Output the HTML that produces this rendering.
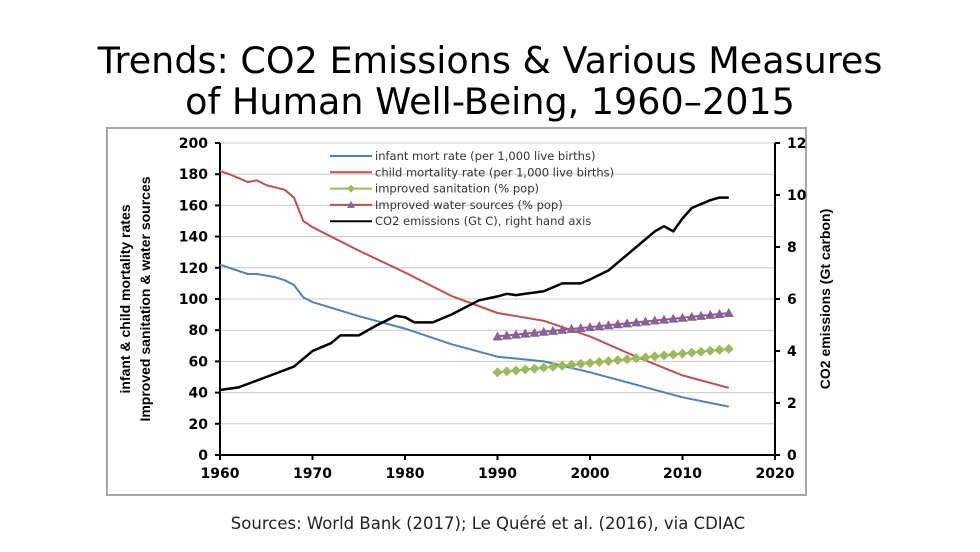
<!DOCTYPE html>
<html><head><meta charset="utf-8"><style>
body{margin:0;background:#fff;width:980px;height:547px;overflow:hidden;font-family:"Liberation Sans","DejaVu Sans",sans-serif}
</style></head><body>
<svg width="980" height="547" xmlns="http://www.w3.org/2000/svg">
<text x="490" y="73" text-anchor="middle" font-family="DejaVu Sans, sans-serif" font-size="36.5" fill="#000">Trends: CO2 Emissions &amp; Various Measures</text>
<text x="490" y="114" text-anchor="middle" font-family="DejaVu Sans, sans-serif" font-size="36.5" fill="#000">of Human Well-Being, 1960–2015</text>
<rect x="107" y="128" width="699" height="367" fill="#fff" stroke="#a6a6a6" stroke-width="2"/>
<g id="chart"></g>
<text x="488" y="529" text-anchor="middle" font-family="DejaVu Sans, sans-serif" font-size="16.5" fill="#222">Sources: World Bank (2017); Le Quéré et al. (2016), via CDIAC</text>
</svg>
<script>
const infantYears=[1960,1963,1964,1966,1967,1968,1969,1970,1975,1980,1985,1990,1995,2000,2005,2010,2015];
const infantVals=[122,116,116,114,112,109,101,98,89,81,71,63,60,53,45,37,31];
const childYears=[1960,1961,1963,1964,1965,1967,1968,1969,1970,1975,1980,1985,1990,1995,2000,2005,2010,2015];
const childVals=[182,180,175,176,173,170,165,150,146,131,117,102,91,86,76,63,51,43];
const co2Years=[1960,1962,1965,1968,1970,1972,1973,1975,1977,1979,1980,1981,1983,1985,1988,1990,1991,1992,1993,1995,1997,1999,2000,2002,2003,2005,2007,2008,2009,2010,2011,2013,2014,2015];
const co2Vals=[2.5,2.6,3.0,3.4,4.0,4.3,4.6,4.6,5.0,5.35,5.3,5.1,5.1,5.4,5.95,6.1,6.2,6.15,6.2,6.3,6.6,6.6,6.75,7.1,7.4,8.0,8.6,8.8,8.6,9.1,9.5,9.8,9.9,9.9];
const wsYears=[1990,1991,1992,1993,1994,1995,1996,1997,1998,1999,2000,2001,2002,2003,2004,2005,2006,2007,2008,2009,2010,2011,2012,2013,2014,2015];
const sanitVals=[53,53.6,54.2,54.8,55.4,56,56.6,57.2,57.8,58.4,59,59.6,60.2,60.8,61.4,62,62.6,63.2,63.8,64.4,65,65.6,66.2,66.8,67.4,68];
const waterVals=[76,76.6,77.2,77.8,78.4,79,79.6,80.2,80.8,81.4,82,82.6,83.2,83.8,84.4,85,85.6,86.2,86.8,87.4,88,88.6,89.2,89.8,90.4,91];
const xTicks=[1960,1970,1980,1990,2000,2010,2020];
const yTicks=[0,20,40,60,80,100,120,140,160,180,200];
const y2Ticks=[0,2,4,6,8,10,12];

const NS='http://www.w3.org/2000/svg';
const g=document.getElementById('chart');
const X0=220,X1=775,Y0=455,Y1=143;
const sx=v=>X0+(v-1960)/60*(X1-X0);
const sy=v=>Y0-v/200*(Y0-Y1);
const sy2=v=>Y0-v/12*(Y0-Y1);
function el(t,a,p){const e=document.createElementNS(NS,t);for(const k in a)e.setAttribute(k,a[k]);(p||g).appendChild(e);return e;}
yTicks.forEach(t=>{if(t>0){const l=el('line',{x1:X0,x2:X1,y1:sy(t),y2:sy(t),stroke:'#c8c8c8','stroke-width':1});

}
const tk=el('line',{x1:X0-5,x2:X0,y1:sy(t),y2:sy(t),stroke:'#000','stroke-width':2});


const tx=el('text',{x:X0-12,y:sy(t)+5,'text-anchor':'end','font-size':14,'font-weight':'bold','font-family':'DejaVu Sans, sans-serif'});tx.textContent=t;

});
y2Ticks.forEach(t=>{const tk=el('line',{x1:X1,x2:X1+5,y1:sy2(t),y2:sy2(t),stroke:'#000','stroke-width':2});


const tx=el('text',{x:X1+12,y:sy2(t)+5,'font-size':14,'font-weight':'bold','font-family':'DejaVu Sans, sans-serif'});tx.textContent=t;

});
xTicks.forEach(t=>{const tk=el('line',{x1:sx(t),x2:sx(t),y1:Y0,y2:Y0+5,stroke:'#000','stroke-width':2});


const tx=el('text',{x:sx(t),y:Y0+23,'text-anchor':'middle','font-size':14,'font-weight':'bold','font-family':'DejaVu Sans, sans-serif'});tx.textContent=t;

});
const ax=el('path',{d:`M${X0} ${Y1}V${Y0}H${X1}V${Y1}`,fill:'none',stroke:'#000','stroke-width':2});


function line(xs,ys,f,color,w,name){const d=xs.map((x,i)=>(i?'L':'M')+sx(x).toFixed(1)+' '+f(ys[i]).toFixed(1)).join('');
const p=el('path',{d,fill:'none',stroke:color,'stroke-width':w,'stroke-linejoin':'round'});

}
line(infantYears,infantVals,sy,'#4f81bd',2,'infant-mortality-line');
line(childYears,childVals,sy,'#c0504d',2,'child-mortality-line');
line(co2Years,co2Vals,sy2,'#000',2.5,'co2-emissions-line');
line(wsYears,waterVals,sy,'#c0504d',2,'water-sources-line');
line(wsYears,sanitVals,sy,'#9bbb59',2,'sanitation-line');
wsYears.forEach((yr,i)=>{const x=sx(yr),y=sy(waterVals[i]);
const m=el('polygon',{points:`${x-5},${y+4} ${x+5},${y+4} ${x},${y-5}`,fill:'#8064a2'});


const y2=sy(sanitVals[i]);
const d=el('polygon',{points:`${x-5},${y2} ${x},${y2-5} ${x+5},${y2} ${x},${y2+5}`,fill:'#9bbb59'});

});
const leg=[['infant mort rate (per 1,000 live births)','#4f81bd',null],['child mortality rate (per 1,000 live births)','#c0504d',null],['improved sanitation (% pop)','#9bbb59','d'],['Improved water sources (% pop)','#c0504d','t'],['CO2 emissions (Gt C), right hand axis','#000',null]];
leg.forEach((e,i)=>{const y=156+i*16.3;
const l=el('line',{x1:330,x2:372,y1:y,y2:y,stroke:e[1],'stroke-width':2});


if(e[2]==='d'){el('polygon',{points:`347,${y} 351,${y-4} 355,${y} 351,${y+4}`,fill:'#9bbb59'});}
if(e[2]==='t'){el('polygon',{points:`347,${y+3} 355,${y+3} 351,${y-4}`,fill:'#8064a2'});}
const t=el('text',{x:375,y:y+4,'font-size':11.5,fill:'#333','font-family':'DejaVu Sans, sans-serif'});t.textContent=e[0];

});
const t1=el('text',{transform:'translate(130,299) rotate(-90)','text-anchor':'middle','font-size':14,'font-weight':'bold','font-family':'Liberation Sans, sans-serif'});t1.textContent='infant & child mortality rates';


const t2=el('text',{transform:'translate(150,299) rotate(-90)','text-anchor':'middle','font-size':14,'font-weight':'bold','font-family':'Liberation Sans, sans-serif'});t2.textContent='Improved sanitation & water sources';


const t3=el('text',{transform:'translate(830,299) rotate(-90)','text-anchor':'middle','font-size':14,'font-weight':'bold','font-family':'Liberation Sans, sans-serif'});t3.textContent='CO2 emissions (Gt carbon)';


</script>
</body></html>
